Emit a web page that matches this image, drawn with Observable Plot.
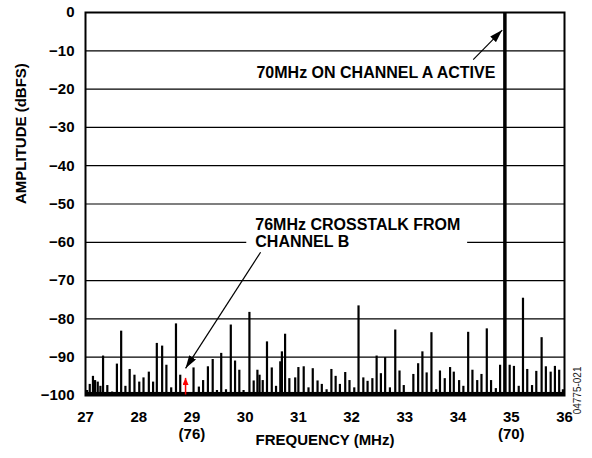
<!DOCTYPE html>
<html><head><meta charset="utf-8">
<script src="https://cdn.jsdelivr.net/npm/d3@7"></script>
<script src="https://cdn.jsdelivr.net/npm/@observablehq/plot@0.6"></script>
<style>html,body{margin:0;padding:0;background:#fff}</style>
</head><body><div id="chart"></div>
<script>
// ---- data ----
const xTicks = [27, 28, 29, 30, 31, 32, 33, 34, 35, 36];
const xTickLabels = ["27", "28", "29\n(76)", "30", "31", "32", "33", "34", "35\n(70)", "36"];
const yTicks = [0, -10, -20, -30, -40, -50, -60, -70, -80, -90, -100];
const yTickLabels = ["0", "\u221210", "\u221220", "\u221230", "\u221240", "\u221250", "\u221260", "\u221270", "\u221280", "\u221290", "\u2212100"];

const spikeFreq = [
  27.03, 27.08, 27.14, 27.18, 27.23, 27.28, 27.33, 27.41, 27.50, 27.59, 27.67, 27.75, 27.83, 27.92,
  28.01, 28.09, 28.19, 28.27, 28.34, 28.44, 28.52, 28.61, 28.70, 28.78,
  29.03, 29.13, 29.21, 29.30, 29.39, 29.47, 29.55, 29.64, 29.73, 29.81, 29.89, 29.97,
  30.08, 30.16, 30.23, 30.27, 30.33, 30.41, 30.50, 30.58, 30.66, 30.69, 30.75, 30.83, 30.94,
  31.00, 31.10, 31.19, 31.27, 31.36, 31.44, 31.53, 31.62, 31.70, 31.78, 31.88, 31.96,
  32.05, 32.13, 32.22, 32.30, 32.39, 32.47, 32.55, 32.63, 32.72, 32.82, 32.90, 32.98,
  33.16, 33.25, 33.33, 33.41, 33.50, 33.59, 33.66, 33.75, 33.85, 33.92,
  34.02, 34.10, 34.19, 34.27, 34.36, 34.44, 34.54, 34.62, 34.71, 34.79, 34.97,
  35.05, 35.14, 35.22, 35.30, 35.39, 35.47, 35.57, 35.65, 35.74, 35.82, 35.90, 35.97
];
const spikeDb = [
  -98.7, -97.1, -95.0, -96.1, -96.5, -97.6, -89.7, -97.4, -99.1, -91.8, -83.2, -97.6, -93.2, -94.7,
  -96.5, -95.4, -93.9, -96.5, -86.4, -87.1, -92.1, -98.0, -81.3, -94.7,
  -92.8, -97.8, -96.1, -92.5, -90.6, -98.7, -89.0, -98.5, -81.6, -91.0, -93.4, -98.7,
  -78.3, -96.2, -93.4, -94.7, -96.1, -86.0, -92.8, -97.6, -91.2, -88.6, -84.0, -95.6, -95.4,
  -92.7, -92.5, -98.0, -93.0, -96.2, -97.1, -98.5, -93.2, -95.0, -97.1, -94.0, -96.1,
  -98.0, -76.6, -95.4, -96.3, -95.6, -89.7, -94.3, -90.1, -98.0, -82.9, -93.6, -97.4,
  -94.5, -91.7, -88.6, -94.1, -83.6, -98.5, -93.6, -95.6, -92.7, -93.9,
  -96.1, -97.6, -83.5, -93.4, -96.1, -94.5, -82.6, -96.1, -98.2, -92.1, -92.1,
  -92.4, -97.6, -74.6, -93.2, -97.4, -93.7, -84.9, -92.5, -93.9, -92.4, -93.4, -98.5
];
const carrierFreq = [34.88];
const carrierDb = [0];
const crosstalkFreq = [28.88];
const crosstalkDb = [-95.4];
const noiseFloorDb = -99.2;
const floorDb = -100;

const noteText = ["70MHz ON CHANNEL A ACTIVE", "76MHz CROSSTALK FROM\nCHANNEL B"];
const noteFreq = [34.70, 30.19];
const noteDb = [-15.8, -57.5];
const noteBoxFreq = [30.03, 34.18];
const noteBoxDb = [-56, -63];
const arrowFromFreq = [34.285, 30.29];
const arrowFromDb = [-12.3, -62.6];
const arrowToFreq = [34.83, 28.88];
const arrowToDb = [-4.6, -92.9];

// ---- tables ----
const spikes = spikeFreq.map((f, i) => ({f, db: spikeDb[i]}));
const carrier = carrierFreq.map((f, i) => ({f, db: carrierDb[i]}));
const crosstalk = crosstalkFreq.map((f, i) => ({f, db: crosstalkDb[i]}));
const notes = noteText.map((t, i) => ({t, f: noteFreq[i], db: noteDb[i]}));
const arrows = arrowFromFreq.map((f, i) => ({f1: f, d1: arrowFromDb[i], f2: arrowToFreq[i], d2: arrowToDb[i]}));

const FONT = "'Liberation Sans', Arial, Helvetica, sans-serif";

const chart = Plot.plot({
  width: 592,
  height: 458,
  marginLeft: 85,
  marginRight: 28,
  marginTop: 12,
  marginBottom: 63,
  style: {fontFamily: FONT, fontSize: "15px", fontWeight: "bold", color: "black", background: "white"},
  x: {domain: [27, 36]},
  y: {domain: [-100, 0]},
  marks: [
    Plot.ruleY(yTicks, {stroke: "black", strokeWidth: 1.2}),
    Plot.rect([0], {x1: () => noteBoxFreq[0], x2: () => noteBoxFreq[1], y1: () => noteBoxDb[0], y2: () => noteBoxDb[1], fill: "white"}),
    Plot.rect([noiseFloorDb], {x1: () => xTicks[0], x2: () => xTicks[xTicks.length - 1], y1: () => floorDb, y2: d => d, fill: "black"}),
    Plot.ruleX(spikes, {x: "f", y1: () => floorDb, y2: "db", stroke: "black", strokeWidth: 2.2}),
    Plot.ruleX(carrier, {x: "f", y1: () => floorDb, y2: "db", stroke: "black", strokeWidth: 3.5}),
    Plot.link(crosstalk, {x1: "f", x2: "f", y1: () => floorDb, y2: "db", stroke: "red", strokeWidth: 1.5}),
    Plot.frame({stroke: "black", strokeWidth: 2}),
    Plot.axisX({ticks: xTicks, tickSize: 0, tickPadding: 15, lineHeight: 1.1,
      tickFormat: d => xTickLabels[xTicks.indexOf(d)], label: null}),
    Plot.axisY({ticks: yTicks, tickSize: 0, tickPadding: 11,
      tickFormat: d => yTickLabels[yTicks.indexOf(d)], label: null}),
    Plot.text(["FREQUENCY (MHz)"], {frameAnchor: "bottom", dy: 49, fontSize: 15, fontWeight: "bold"}),
    Plot.text(["AMPLITUDE (dBFS)"], {frameAnchor: "left", dx: -64, rotate: -90, fontSize: 15, fontWeight: "bold"}),
    Plot.text(["04775-021"], {frameAnchor: "bottom-right", dx: 16, dy: -29, rotate: -90, fontSize: 10, fontWeight: "normal", fill: "#222"}),
    Plot.text(notes.slice(0, 1), {x: "f", y: "db", text: "t", textAnchor: "end", fontSize: 16, fontWeight: "bold"}),
    Plot.text(notes.slice(1), {x: "f", y: "db", text: "t", textAnchor: "start", fontSize: 16, fontWeight: "bold", lineHeight: 1.05}),
    Plot.link(arrows, {x1: "f1", y1: "d1", x2: "f2", y2: "d2", stroke: "black", strokeWidth: 1.2})
  ]
});

// filled arrowheads
const svg = d3.select(chart);
const defs = svg.insert("defs", ":first-child");
function addMarker(id, color, w, h) {
  defs.append("marker")
    .attr("id", id)
    .attr("viewBox", `0 0 ${w} ${h}`)
    .attr("refX", w).attr("refY", h / 2)
    .attr("markerWidth", w).attr("markerHeight", h)
    .attr("markerUnits", "userSpaceOnUse")
    .attr("orient", "auto")
    .append("path").attr("d", `M0,0L${w},${h / 2}L0,${h}Z`).attr("fill", color);
}
addMarker("headBlack", "black", 13, 8);
addMarker("headRed", "red", 7, 6);
svg.selectAll('g[aria-label="link"]').each(function() {
  const g = d3.select(this);
  const red = g.attr("stroke") === "red";
  g.selectAll("path").attr("marker-end", red ? "url(#headRed)" : "url(#headBlack)");
});

document.getElementById("chart").appendChild(chart);
</script>
</body></html>
